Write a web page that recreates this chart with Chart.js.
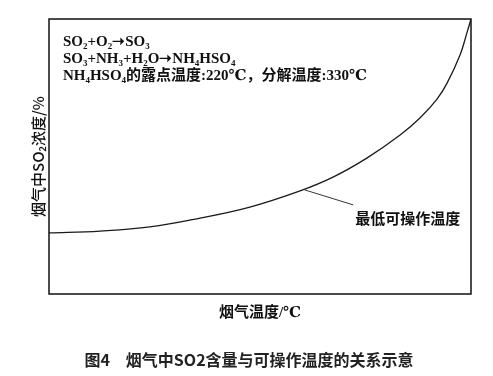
<!DOCTYPE html>
<html lang="zh">
<head>
  <meta charset="UTF-8" />
  <title>烟气中SO2含量与可操作温度的关系示意</title>
  <script src="https://cdn.jsdelivr.net/npm/chart.js"></script>
  <style>
    html, body { margin: 0; padding: 0; background: #fff; }
    #wrap { width: 493px; height: 376px; }
  </style>
</head>
<body>
  <div id="wrap"><canvas id="chart" width="493" height="376"></canvas></div>

  <script>
    // valeurs (axes sans graduation, échelle 0-100)
    const temperature = [0, 12.1, 23.9, 35.8, 47.6, 59.5, 67.3, 75.4, 83.2, 87.9, 91.9, 94.3, 97.4, 99.1, 100];
    const concentration = [22.2, 22.9, 24.4, 27.6, 31.6, 37.5, 42.5, 49.5, 57.8, 64.0, 70.8, 76.6, 86.9, 95.3, 100];

    const yTitle = '烟气中SO₂浓度/%';
    const xTitle = '烟气温度/℃';
    const caption = '图4　烟气中SO2含量与可操作温度的关系示意';
    const notes = ['SO₂+O₂➝SO₃', 'SO₃+NH₃+H₂O➝NH₄HSO₄', 'NH₄HSO₄的露点温度:220℃，分解温度:330℃'];
    const curveLabel = '最低可操作温度';
    const labelAnchor = [60.5, 37.9];   // point de la courbe
    const labelEnd = [72.1, 32.4];

    const serif = '"Liberation Serif", "DejaVu Serif", "Noto Sans CJK SC", serif';
    const sans = '"Noto Sans CJK SC", "Noto Sans", sans-serif';

    const decor = {
      id: 'decor',
      afterDraw(chart) {
        const { ctx, chartArea: a, scales: { x, y } } = chart;
        ctx.save();
        // cadre
        ctx.strokeStyle = '#111';
        ctx.lineWidth = 1.5;
        ctx.strokeRect(a.left, a.top, a.right - a.left, a.bottom - a.top);

        // titre axe Y
        ctx.fillStyle = '#111';
        ctx.font = '500 15px ' + sans;
        ctx.textAlign = 'center';
        ctx.textBaseline = 'middle';
        ctx.save();
        ctx.translate(a.left - 11, (a.top + a.bottom) / 2);
        ctx.rotate(-Math.PI / 2);
        ctx.fillText(yTitle, 0, 0);
        ctx.restore();

        // titre axe X
        ctx.font = 'bold 15px ' + serif;
        ctx.fillText(xTitle, (a.left + a.right) / 2, a.bottom + 19);

        // légende de la figure
        ctx.font = 'bold 16px ' + sans;
        ctx.fillStyle = '#222';
        ctx.fillText(caption, 249, 360);

        // équations
        ctx.fillStyle = '#111';
        ctx.font = 'bold 15px ' + serif;
        ctx.textAlign = 'left';
        notes.forEach((t, i) => {
          ctx.fillText(t, x.getPixelForValue(3.3), y.getPixelForValue(91.6) + i * 17);
        });

        // trait de rappel + étiquette
        ctx.strokeStyle = '#333';
        ctx.lineWidth = 1;
        ctx.beginPath();
        ctx.moveTo(x.getPixelForValue(labelAnchor[0]), y.getPixelForValue(labelAnchor[1]));
        ctx.lineTo(x.getPixelForValue(labelEnd[0]), y.getPixelForValue(labelEnd[1]));
        ctx.stroke();
        ctx.font = 'bold 15px ' + sans;
        ctx.fillText(curveLabel, x.getPixelForValue(72.6), y.getPixelForValue(27.6));
        ctx.restore();
      }
    };

    new Chart(document.getElementById('chart'), {
      type: 'line',
      data: {
        datasets: [{
          data: temperature.map((t, i) => ({ x: t, y: concentration[i] })),
          borderColor: '#1a1a1a',
          borderWidth: 1.3,
          pointRadius: 0,
          tension: 0.4,
          fill: false
        }]
      },
      options: {
        responsive: false,
        animation: false,
        layout: { padding: { left: 49, top: 19, right: 22, bottom: 82 } },
        plugins: { legend: { display: false }, tooltip: { enabled: false } },
        scales: {
          x: { type: 'linear', min: 0, max: 100, display: false },
          y: { min: 0, max: 100, display: false }
        }
      },
      plugins: [decor]
    });
  </script>
</body>
</html>
